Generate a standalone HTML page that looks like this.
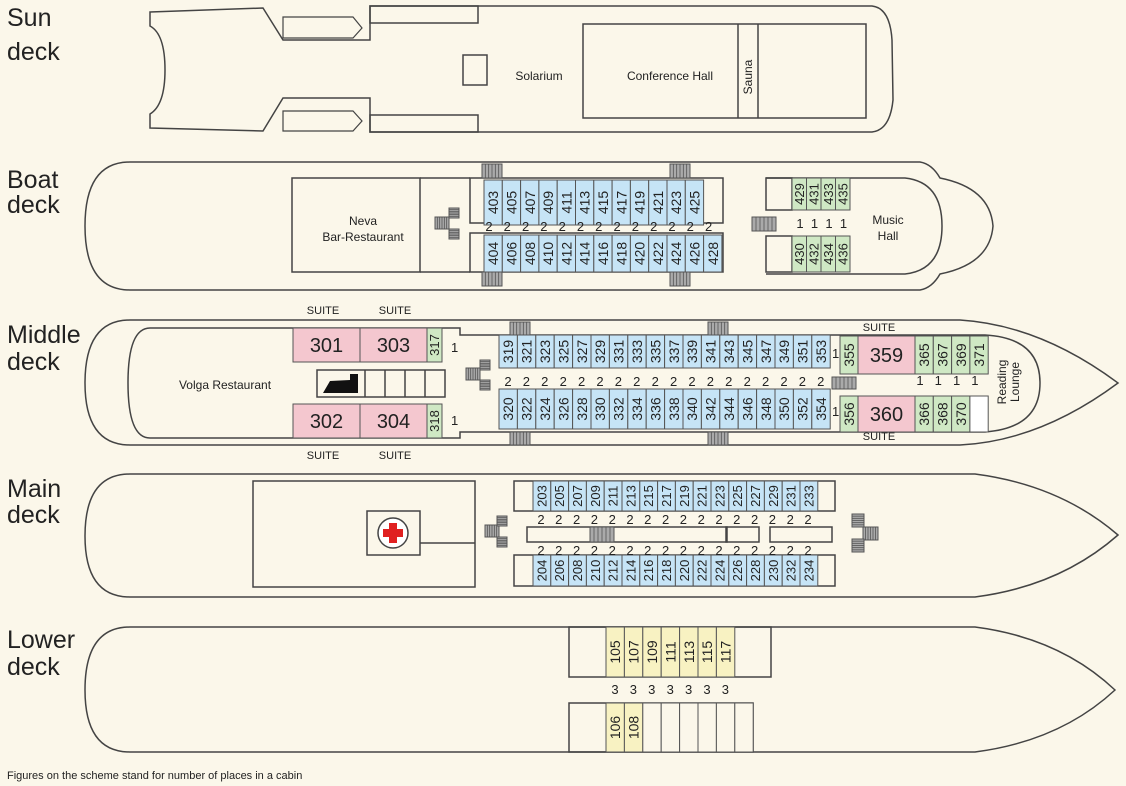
<!DOCTYPE html>
<html><head><meta charset="utf-8">
<style>
html,body{margin:0;padding:0;background:#fbf7ea;}
svg{display:block;font-family:"Liberation Sans Narrow","Liberation Sans",sans-serif;}
.deck{font-family:"Liberation Sans",sans-serif;font-size:25px;fill:#222;}
.lbl{font-size:11px;fill:#222;}
</style></head>
<body>
<svg id="plan" width="1126" height="786" viewBox="0 0 1126 786">
<rect width="1126" height="786" fill="#fbf7ea"/>
<g fill="none" stroke="#444" stroke-width="1.5">
 <path d="M150,12 L263,8 L283,40 L370,40 L370,6 L872,6 Q890,8 892,40 L893,100 Q890,130 872,132 L370,132 L370,98 L283,98 L263,131 L150,128 L150,114 Q165,105 165,70 Q165,34 150,26 Z" fill="#fbf7ea"/>
 <path d="M283,17 L353,17 L362,28 L353,38 L283,38 Z" stroke-width="1.2"/>
 <path d="M283,111 L353,111 L362,121 L353,131 L283,131 Z" stroke-width="1.2"/>
 <rect x="370" y="6" width="108" height="17"/>
 <rect x="370" y="115" width="108" height="17"/>
 <rect x="463" y="55" width="24" height="30"/>
 <rect x="583" y="24" width="283" height="94"/>
 <line x1="738" y1="24" x2="738" y2="118"/><line x1="758" y1="24" x2="758" y2="118"/>
 <path d="M130,162 L920,162 Q932,164 940,178 Q990,188 993,226 Q990,264 940,274 Q932,288 920,290 L130,290 Q85,290 85,226 Q85,162 130,162 Z"/>
 <path d="M766,178 L905,178 Q942,182 942,226 Q942,270 905,274 L766,274"/>
 <rect x="292" y="178" width="128" height="94"/>
 <line x1="420" y1="178" x2="470" y2="178"/><line x1="420" y1="272" x2="470" y2="272"/>
 <rect x="470" y="178" width="253" height="45"/>
 <rect x="470" y="233" width="253" height="39"/>
 <rect x="766" y="178" width="26" height="32"/>
 <rect x="766" y="236" width="26" height="36"/>
 <path d="M130,320 L960,320 Q1040,325 1118,383 Q1040,441 960,445 L130,445 Q85,445 85,383 Q85,320 130,320 Z"/>
 <path d="M150,328 L460,328 L460,335 L985,335 Q1040,338 1040,383 Q1040,428 985,432 L460,432 L460,438 L150,438 Q128,438 128,383 Q128,328 150,328 Z"/>
 <rect x="317" y="370" width="128" height="27"/>
 <line x1="365" y1="370" x2="365" y2="397"/><line x1="385" y1="370" x2="385" y2="397"/><line x1="405" y1="370" x2="405" y2="397"/><line x1="425" y1="370" x2="425" y2="397"/>
 <path d="M130,474 L975,474 Q1060,485 1118,535 Q1060,586 975,597 L130,597 Q85,597 85,536 Q85,474 130,474 Z"/>
 <rect x="253" y="481" width="222" height="106"/>
 <rect x="514" y="481" width="321" height="30"/>
 <rect x="514" y="555" width="321" height="31"/>
 <rect x="527" y="527" width="200" height="15"/>
 <rect x="726" y="527" width="33" height="15"/>
 <rect x="770" y="527" width="62" height="15"/>
 <rect x="367" y="511" width="53" height="44"/>
 <line x1="420" y1="543" x2="475" y2="543"/>
 <path d="M130,627 L975,627 Q1060,638 1115,690 Q1060,741 975,752 L130,752 Q85,752 85,690 Q85,627 130,627 Z"/>
 <rect x="569" y="627" width="202" height="50"/>
 <rect x="569" y="703" width="184" height="49"/>
</g>
<circle cx="393" cy="533" r="15" fill="#fff" stroke="#444" stroke-width="1.5"/>
<path d="M389,523h8v6h6v8h-6v6h-8v-6h-6v-8h6z" fill="#e02020"/>
<path d="M323,393 L330,381 L350,380 L350,374 L358,374 L358,393 Z" fill="#111"/>
<g id="stairs" fill="#999" stroke="#555" stroke-width="0.8"></g>
<g id="cabins"></g>
<g id="places" font-size="13" fill="#222" text-anchor="middle"></g>
<g fill="#222" font-size="12" text-anchor="middle">
 <text x="539" y="80">Solarium</text>
 <text x="670" y="80">Conference Hall</text>
 <text transform="translate(752,77) rotate(-90)">Sauna</text>
 <text x="363" y="225">Neva</text><text x="363" y="241">Bar-Restaurant</text>
 <text x="888" y="224">Music</text><text x="888" y="240">Hall</text>
 <text x="225" y="389">Volga Restaurant</text>
 <text transform="translate(1006,382) rotate(-90)">Reading</text>
 <text transform="translate(1019,382) rotate(-90)">Lounge</text>
</g>
<g class="lbl" text-anchor="middle">
 <text x="323" y="314">SUITE</text><text x="395" y="314">SUITE</text>
 <text x="323" y="459">SUITE</text><text x="395" y="459">SUITE</text>
 <text x="879" y="331">SUITE</text><text x="879" y="440">SUITE</text>
</g>
<g class="deck">
 <text x="7" y="26">Sun</text><text x="7" y="60">deck</text>
 <text x="7" y="188">Boat</text><text x="7" y="213">deck</text>
 <text x="7" y="343">Middle</text><text x="7" y="370">deck</text>
 <text x="7" y="497">Main</text><text x="7" y="523">deck</text>
 <text x="7" y="648">Lower</text><text x="7" y="675">deck</text>
</g>
<text x="7" y="779" font-size="11" fill="#222" font-family="Liberation Sans,sans-serif">Figures on the scheme stand for number of places in a cabin</text>
<text x="451" y="352" font-size="13" fill="#222">1</text><text x="451" y="425" font-size="13" fill="#222">1</text>
<text x="832" y="358" font-size="13" fill="#222">1</text><text x="832" y="416" font-size="13" fill="#222">1</text>
</svg>
<script>
var NS='http://www.w3.org/2000/svg';
var boatTop=['403','405','407','409','411','413','415','417','419','421','423','425'];
var boatBot=['404','406','408','410','412','414','416','418','420','422','424','426','428'];
var boatRTop=['429','431','433','435'];
var boatRBot=['430','432','434','436'];
var midTop=['319','321','323','325','327','329','331','333','335','337','339','341','343','345','347','349','351','353'];
var midBot=['320','322','324','326','328','330','332','334','336','338','340','342','344','346','348','350','352','354'];
var midRTop=['365','367','369','371'];
var midRBot=['366','368','370',''];
var mainTop=['203','205','207','209','211','213','215','217','219','221','223','225','227','229','231','233'];
var mainBot=['204','206','208','210','212','214','216','218','220','222','224','226','228','230','232','234'];
var lowTop=['105','107','109','111','113','115','117'];
var lowBot=['106','108','','','','','',''];
var C={b:'#c6e4f6',g:'#cfe8c4',p:'#f4c7cf',y:'#f8f2c2',w:'#ffffff',n:'#fbf7ea'};
var cab=document.getElementById('cabins'),pl=document.getElementById('places'),st=document.getElementById('stairs');
function rect(x,y,w,h,f){var r=document.createElementNS(NS,'rect');r.setAttribute('x',x);r.setAttribute('y',y);r.setAttribute('width',w);r.setAttribute('height',h);r.setAttribute('fill',f);r.setAttribute('stroke','#555');r.setAttribute('stroke-width','1');return r;}
function row(labels,x0,w,y,h,col,fs){
 labels.forEach(function(l,i){
  var x=x0+i*w;
  var r=rect(x,y,w,h,l===''?(col==='g'?C.w:C.n):C[col]);
  
  
  cab.appendChild(r);
  if(l){var t=document.createElementNS(NS,'text');
  t.setAttribute('transform','translate('+(x+w/2)+','+(y+h/2)+') rotate(-90)');
  t.setAttribute('text-anchor','middle');t.setAttribute('dominant-baseline','central');
  t.setAttribute('font-size',fs||14);t.setAttribute('fill','#222');t.textContent=l;
  
  
  cab.appendChild(t);}
 });
}
function nums(n,x0,w,y,v){for(var i=0;i<n;i++){var t=document.createElementNS(NS,'text');t.setAttribute('x',x0+i*w);t.setAttribute('y',y);t.textContent=v;pl.appendChild(t);}}
function big(l,x,y,w,h,col){var r=rect(x,y,w,h,C[col]);
 
 
 cab.appendChild(r);var t=document.createElementNS(NS,'text');t.setAttribute('x',x+w/2);t.setAttribute('y',y+h/2+7);t.setAttribute('text-anchor','middle');t.setAttribute('font-size','20');t.setAttribute('fill','#222');t.textContent=l;cab.appendChild(t);}
function stair(x,y,w,h){var r=rect(x,y,w,h,'#aaa');
 
 
 st.appendChild(r);
 for(var i=1;i<6;i++){var L=document.createElementNS(NS,'line');if(w>h){L.setAttribute('x1',x+i*w/6);L.setAttribute('x2',x+i*w/6);L.setAttribute('y1',y);L.setAttribute('y2',y+h);}else{L.setAttribute('y1',y+i*h/6);L.setAttribute('y2',y+i*h/6);L.setAttribute('x1',x);L.setAttribute('x2',x+w);}L.setAttribute('stroke','#555');st.appendChild(L);}}
row(boatTop,484,18.3,180,45,'b');row(boatBot,484,18.3,235,37,'b');
row(boatRTop,792,14.5,178,32,'g',13);row(boatRBot,792,14.5,236,36,'g',13);
nums(13,489,18.3,231,'2');nums(4,800,14.5,228,'1');
big('301',293,328,67,34,'p');big('303',360,328,67,34,'p');big('302',293,404,67,34,'p');big('304',360,404,67,34,'p');
row(['317'],427,15,328,34,'g',13);row(['318'],427,15,404,34,'g',13);
row(midTop,499,18.4,335,33,'b');row(midBot,499,18.4,389,40,'b');
row(['355'],840,18,336,38,'g');row(['356'],840,18,396,36,'g');
big('359',858,336,57,38,'p');big('360',858,396,57,36,'p');
row(midRTop,915,18.3,336,38,'g');row(midRBot,915,18.3,396,36,'g');
nums(18,508,18.4,386,'2');nums(4,920,18.3,385,'1');
row(mainTop,533,17.8,481,30,'b',13);row(mainBot,533,17.8,555,31,'b',13);
nums(16,541,17.8,524,'2');nums(16,541,17.8,555,'2');
row(lowTop,606,18.4,627,50,'y');row(lowBot,606,18.4,703,49,'y');
nums(7,615,18.4,694,'3');
stair(482,164,20,14);stair(670,164,20,14);stair(482,272,20,14);stair(670,272,20,14);stair(752,217,24,14);
stair(435,217,14,12);stair(449,208,10,10);stair(449,229,10,10);
stair(510,322,20,13);stair(708,322,20,13);stair(510,432,20,13);stair(708,432,20,13);stair(832,377,24,12);
stair(466,368,14,12);stair(480,360,10,10);stair(480,380,10,10);
stair(485,525,14,12);stair(497,516,10,10);stair(497,537,10,10);stair(590,527,24,15);
stair(863,527,15,13);stair(852,514,12,13);stair(852,539,12,13);
</script>
</body></html>
